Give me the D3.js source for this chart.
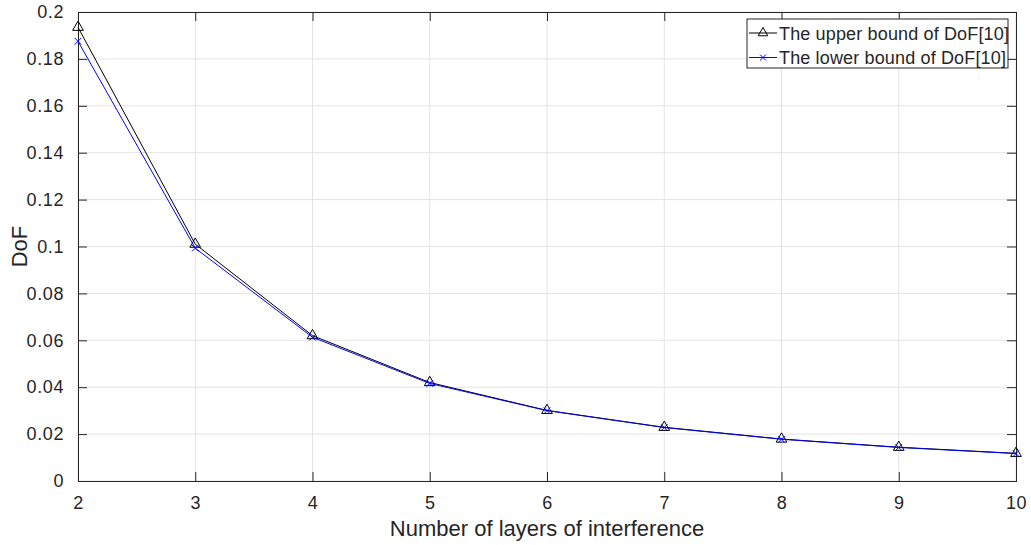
<!DOCTYPE html>
<html>
<head>
<meta charset="utf-8">
<script src="https://cdn.jsdelivr.net/npm/d3@7"></script>
<style>
  body { margin: 0; background: #fff; }
  text { font-family: "Liberation Sans", Arial, sans-serif; fill: #262626; }
</style>
</head>
<body>
<div id="chart"></div>
<script>
// data
let layers = [2, 3, 4, 5, 6, 7, 8, 9, 10];
let upperBound = [0.1935, 0.1010, 0.0620, 0.0420, 0.0301, 0.0229, 0.0179, 0.0144, 0.0118];
let lowerBound = [0.1875, 0.0993, 0.0613, 0.0416, 0.0300, 0.0228, 0.0178, 0.0143, 0.0117];
let xTicks = [2, 3, 4, 5, 6, 7, 8, 9, 10];
let yTicks = [0, 0.02, 0.04, 0.06, 0.08, 0.1, 0.12, 0.14, 0.16, 0.18, 0.2];
let legendLabels = ["The upper bound of DoF[10]", "The lower bound of DoF[10]"];

let W = 1031, H = 545;
let margin = { top: 12, right: 15, bottom: 64, left: 78 };
let width = W - margin.left - margin.right,
    height = H - margin.top - margin.bottom;

let svg = d3.select("#chart").append("svg")
    .attr("width", W)
    .attr("height", H);

let g = svg.append("g")
    .attr("transform", `translate(${margin.left},${margin.top})`);

let x = d3.scaleLinear().domain([2, 10]).range([0, width]);
let y = d3.scaleLinear().domain([0, 0.2]).range([height, 0]);

// grid
g.append("g").selectAll("line").data(xTicks).join("line")
    .attr("x1", d => x(d)).attr("x2", d => x(d))
    .attr("y1", 0).attr("y2", height)
    .attr("stroke", "#e3e3e3").attr("stroke-width", 1);
g.append("g").selectAll("line").data(yTicks).join("line")
    .attr("x1", 0).attr("x2", width)
    .attr("y1", d => y(d)).attr("y2", d => y(d))
    .attr("stroke", "#e3e3e3").attr("stroke-width", 1);

// axes, ticks pointing inward, box all round
let tickLen = 9;
let xAxis = g.append("g")
    .attr("transform", `translate(0,${height})`)
    .call(d3.axisBottom(x).tickValues(xTicks).tickSize(-tickLen).tickPadding(tickLen + 6).tickFormat(d3.format("d")));
let yAxis = g.append("g")
    .call(d3.axisLeft(y).tickValues(yTicks).tickSize(-tickLen).tickPadding(tickLen + 5).tickFormat(d => d === 0 ? "0" : d3.format("")(+d.toFixed(2))));
let xTop = g.append("g")
    .call(d3.axisTop(x).tickValues(xTicks).tickSize(-tickLen).tickFormat(""));
let yRight = g.append("g")
    .attr("transform", `translate(${width},0)`)
    .call(d3.axisRight(y).tickValues(yTicks).tickSize(-tickLen).tickFormat(""));

[xAxis, yAxis, xTop, yRight].forEach(a => {
    a.select(".domain").attr("stroke", "#262626").attr("stroke-width", 1);
    a.selectAll(".tick line").attr("stroke", "#262626");
    a.selectAll("text").style("font-size", "18px").style("letter-spacing", "0.6px").attr("fill", "#262626");
});

// axis labels
svg.append("text")
    .attr("x", margin.left + width / 2)
    .attr("y", 536)
    .attr("text-anchor", "middle")
    .style("font-size", "22px")
    .text("Number of layers of interference");
svg.append("text")
    .attr("transform", `translate(27,${margin.top + height / 2}) rotate(-90)`)
    .attr("text-anchor", "middle")
    .style("font-size", "22px")
    .text("DoF");

// lines
let line = d3.line().x((d, i) => x(layers[i])).y(d => y(d));
let triangle = d3.symbol().type(d3.symbolTriangle).size(50);

g.append("path").datum(upperBound)
    .attr("d", line).attr("fill", "none").attr("stroke", "#000").attr("stroke-width", 1);
g.append("g").selectAll("path").data(upperBound).join("path")
    .attr("d", triangle)
    .attr("transform", (d, i) => `translate(${x(layers[i])},${y(d)})`)
    .attr("fill", "none").attr("stroke", "#000").attr("stroke-width", 1);

g.append("path").datum(lowerBound)
    .attr("d", line).attr("fill", "none").attr("stroke", "#0000ff").attr("stroke-width", 1);
g.append("g").selectAll("path").data(lowerBound).join("path")
    .attr("d", d3.symbol().type(d3.symbolX).size(30))
    .attr("transform", (d, i) => `translate(${x(layers[i])},${y(d)})`)
    .attr("fill", "none").attr("stroke", "#0000ff").attr("stroke-width", 1);

// legend
let legend = svg.append("g").attr("transform", "translate(747,19)");
legend.append("rect")
    .attr("width", 261).attr("height", 49)
    .attr("fill", "#fff").attr("stroke", "#262626").attr("stroke-width", 1);
let legendColors = ["#000", "#0000ff"];
let legendSymbols = [d3.symbol().type(d3.symbolTriangle).size(40), d3.symbol().type(d3.symbolX).size(25)];
legendLabels.forEach((label, i) => {
    let row = legend.append("g").attr("transform", `translate(0,${14 + i * 24.5})`);
    row.append("line").attr("x1", 2).attr("x2", 30).attr("y1", 0).attr("y2", 0)
        .attr("stroke", legendColors[i]);
    row.append("path").attr("d", legendSymbols[i]())
        .attr("transform", "translate(16,0)")
        .attr("fill", "none").attr("stroke", legendColors[i]);
    row.append("text").attr("x", 32).attr("y", 6.5)
        .style("font-size", "18px")
        .style("letter-spacing", "0.15px")
        .text(label);
});
</script>
</body>
</html>
